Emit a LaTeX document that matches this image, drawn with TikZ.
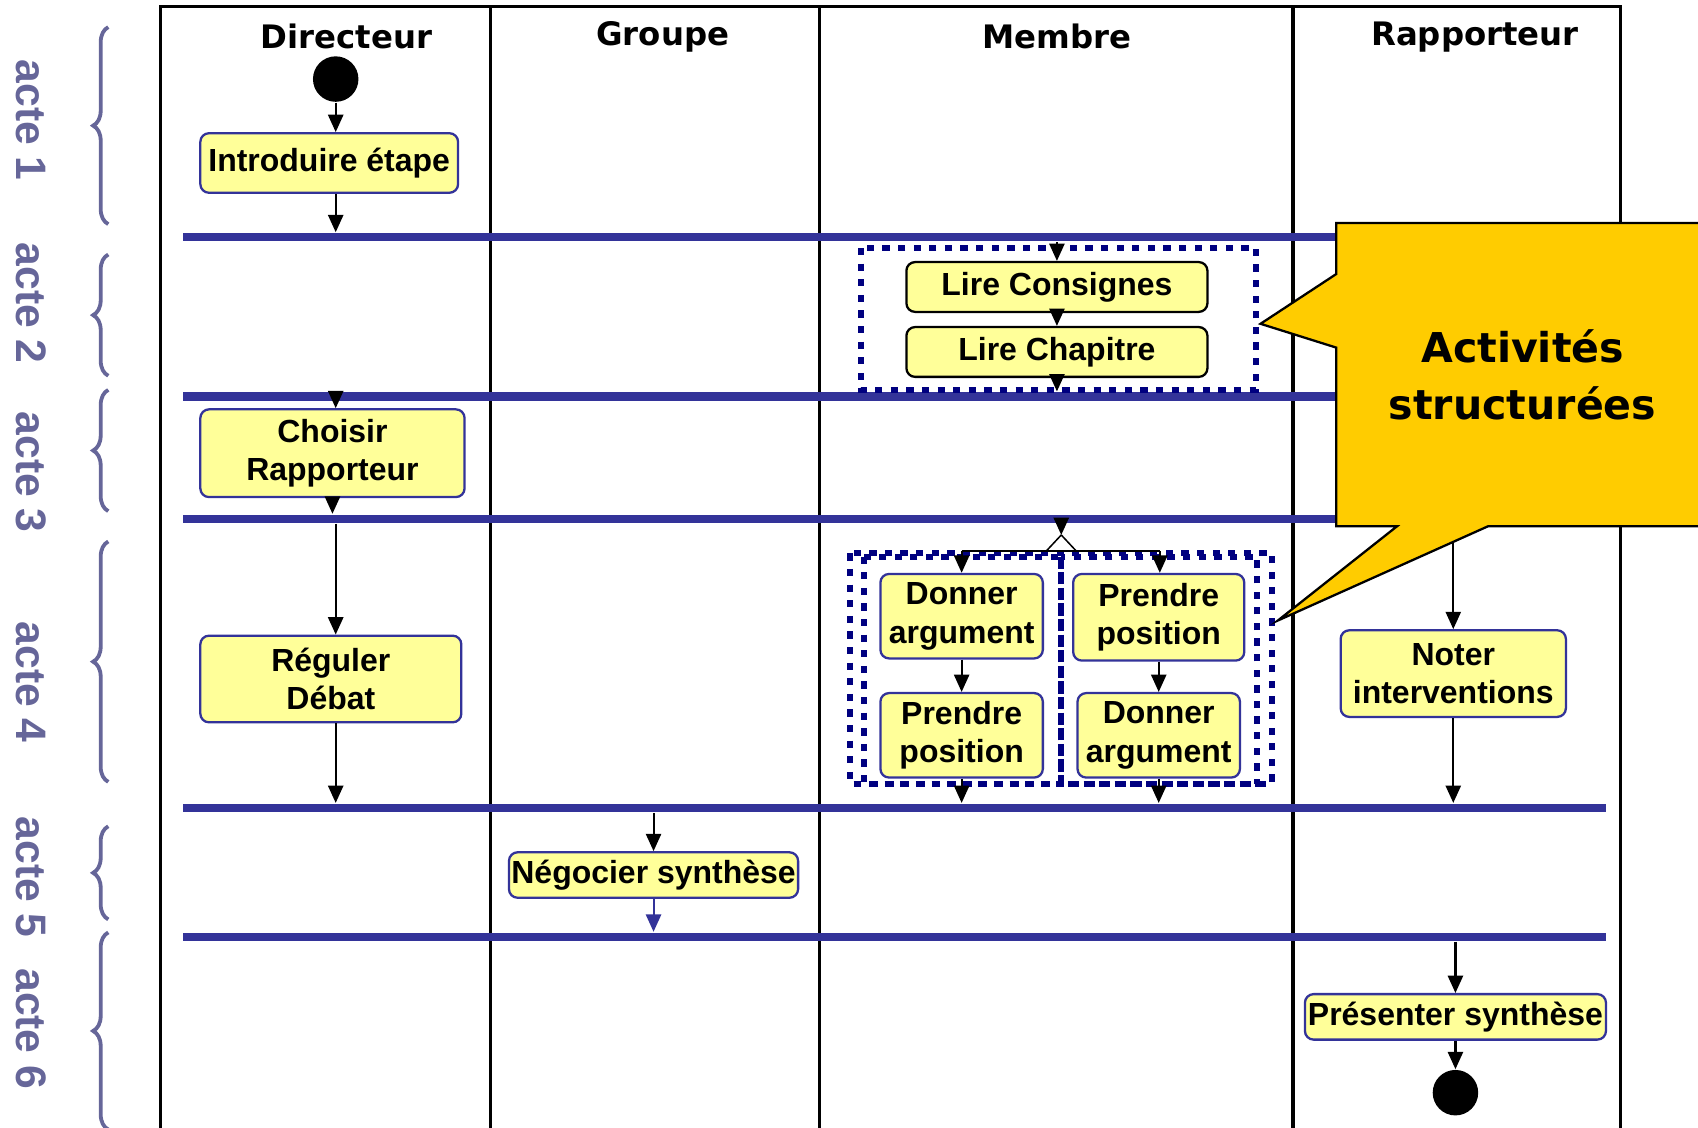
\documentclass[tikz,border=0pt]{standalone}
\usepackage{fontspec}
\setmainfont{Liberation Sans}
\newfontfamily\titrefont{DejaVu Sans}
\usepackage{tikz}
\usetikzlibrary{positioning, arrows.meta, decorations.pathreplacing}

\definecolor{bleubarre}{HTML}{333399}
\definecolor{jaunebox}{HTML}{FFFF99}
\definecolor{marine}{HTML}{000080}
\definecolor{orbulle}{HTML}{FFCC00}
\definecolor{grisacte}{HTML}{666699}

\begin{document}
\begin{tikzpicture}[y=-1cm,
    action/.style={rectangle, rounded corners=0.08cm, draw=bleubarre, line width=0.6pt, fill=jaunebox, inner sep=0pt, align=center, font=\fontsize{8.4}{10.2}\selectfont\bfseries},
    fleche/.style={-{Triangle[length=0.16cm, width=0.14cm]}, line width=0.55pt},
    barre/.style={rectangle, fill=bleubarre, inner sep=0pt, minimum width=13.14cm, minimum height=2.2pt},
    couloir/.style={line width=0.8pt},
    cadre/.style={draw=marine, line width=1.6pt, dash pattern=on 1.9pt off 2.2pt},
    etat/.style={circle, fill=black, inner sep=0pt, minimum size=0.42cm},
    acte/.style={rotate=-90, text=grisacte, font=\fontsize{11.2}{13}\selectfont\bfseries},
    accolade/.style={draw=grisacte, line width=1pt, decorate, decoration={brace, amplitude=0.14cm}},
    entete/.style={font=\titrefont\fontsize{8.5}{10}\selectfont\bfseries},
    bulletexte/.style={align=center, font=\titrefont\fontsize{10.8}{15}\selectfont\bfseries}]
    \path[use as bounding box] (0,0) rectangle (15.68,10.41);
    \clip (0,0) rectangle (15.68,10.41);

    % couloirs
    \draw[couloir] (1.48,10.6) -- (1.48,0.06) -- (14.96,0.06) -- (14.96,10.6);
    \draw[couloir] (4.53,0.06) -- (4.53,10.6);
    \draw[couloir] (7.57,0.06) -- (7.57,10.6);
    \draw[couloir] (11.94,0.06) -- (11.94,10.6);
    \node[entete] (hdir) at (3.20,0.34) {Directeur};
    \node[entete] (hgrp) at (6.12,0.34) {Groupe};
    \node[entete] (hmbr) at (9.76,0.34) {Membre};
    \node[entete] (hrap) at (13.62,0.34) {Rapporteur};

    % actes
    \node[acte] (a1) at (0.29,1.11) {acte 1};
    \node[acte] (a2) at (0.29,2.80) {acte 2};
    \node[acte] (a3) at (0.29,4.36) {acte 3};
    \node[acte] (a4) at (0.29,6.30) {acte 4};
    \node[acte] (a5) at (0.29,8.10) {acte 5};
    \node[acte] (a6) at (0.29,9.50) {acte 6};
    \draw[accolade] (1.00,2.07) -- (1.00,0.25);
    \draw[accolade] (1.00,3.47) -- (1.00,2.35);
    \draw[accolade] (1.00,4.72) -- (1.00,3.60);
    \draw[accolade] (1.00,7.22) -- (1.00,5.00);
    \draw[accolade] (1.00,8.49) -- (1.00,7.63);
    \draw[accolade] (1.00,10.43) -- (1.00,8.61);

    % barres de synchronisation
    \node[barre] (b1) at (8.26,2.19) {};
    \node[barre] (b2) at (8.26,3.66) {};
    \node[barre] (b3) at (8.26,4.79) {};
    \node[barre] (b4) at (8.26,7.46) {};
    \node[barre] (b5) at (8.26,8.65) {};

    % activites structurees
    \draw[cadre] (7.95,2.29) rectangle (11.60,3.60);
    \draw[cadre] (7.85,5.11) rectangle (11.75,7.24);
    \draw[cadre] (7.98,5.14) rectangle (9.80,7.24);
    \draw[cadre] (9.80,5.14) rectangle (11.61,7.24);

    \node[etat] (debut) at (3.10,0.73) {};
    \node[action, minimum width=2.38cm, minimum height=0.55cm] (intro) at (3.04,1.505) {Introduire étape};
    \node[action, draw=black, minimum width=2.78cm, minimum height=0.46cm] (consignes) at (9.76,2.65) {Lire Consignes};
    \node[action, draw=black, minimum width=2.78cm, minimum height=0.46cm] (chapitre) at (9.76,3.25) {Lire Chapitre};
    \node[action, minimum width=2.44cm, minimum height=0.81cm] (choisir) at (3.07,4.185) {Choisir\\Rapporteur};
    \node[action, minimum width=2.41cm, minimum height=0.80cm] (reguler) at (3.055,6.27) {Réguler\\Débat};
    \node[action, minimum width=1.50cm, minimum height=0.78cm] (donnerA) at (8.88,5.69) {Donner\\argument};
    \node[action, minimum width=1.50cm, minimum height=0.78cm] (prendreA) at (8.88,6.79) {Prendre\\position};
    \node[action, minimum width=1.58cm, minimum height=0.80cm] (prendreB) at (10.70,5.70) {Prendre\\position};
    \node[action, minimum width=1.50cm, minimum height=0.78cm] (donnerB) at (10.70,6.79) {Donner\\argument};
    \node[action, minimum width=2.08cm, minimum height=0.80cm] (noter) at (13.42,6.22) {Noter\\interventions};
    \node[action, minimum width=2.67cm, minimum height=0.42cm] (negocier) at (6.035,8.08) {Négocier synthèse};
    \node[action, minimum width=2.78cm, minimum height=0.42cm] (presenter) at (13.44,9.39) {Présenter synthèse};
    \node[etat] (fin) at (13.44,10.09) {};

    \coordinate (fourche) at (9.80,4.94);
    \coordinate (fgauche) at (8.88,5.09);
    \coordinate (fdroite) at (10.71,5.09);

    \draw[fleche] (debut.south) -- (debut.south |- intro.north);
    \draw[fleche] (debut |- intro.south) -- (debut |- b1.north);
    \draw[fleche] (consignes |- b1.south) -- (consignes.north);
    \draw[fleche] (consignes) -- (chapitre);
    \draw[fleche] (chapitre.south) -- (chapitre |- b2.north);
    \draw[fleche] (debut |- b2.south) -- (debut |- choisir.north);
    \draw[fleche] (choisir.south) -- (choisir |- b3.north);
    \draw[fleche] (debut |- b3.south) -- (debut |- reguler.north);
    \draw[fleche] (debut |- reguler.south) -- (debut |- b4.north);
    \draw[fleche] (fourche |- b3.south) -- (fourche);
    \draw (fourche) -- ++(-0.14,0.15);
    \draw (fourche) -- ++(0.14,0.15);
    \draw (fgauche) -- (fdroite);
    \draw[fleche] (fgauche) -- (fgauche |- donnerA.north);
    \draw[fleche] (fdroite) -- (fdroite |- prendreB.north);
    \draw[fleche] (donnerA) -- (prendreA);
    \draw[fleche] (prendreB) -- (donnerB);
    \draw[fleche] (prendreA.south) -- (prendreA |- b4.north);
    \draw[fleche] (donnerB.south) -- (donnerB |- b4.north);
    \draw[fleche] (noter |- b3.south) -- (noter.north);
    \draw[fleche] (noter.south) -- (noter |- b4.north);
    \draw[fleche] (negocier |- b4.south) -- (negocier.north);
    \draw[fleche, bleubarre] (negocier.south) -- (negocier |- b5.north);
    \draw[fleche] (presenter |- b5.south) -- (presenter.north);
    \draw[fleche] (presenter.south) -- (fin.north);

    % bulle
    \draw[fill=orbulle, line width=0.6pt] (12.34,2.06) -- (15.90,2.06) -- (15.90,4.86) -- (13.74,4.86) -- (11.80,5.73) -- (12.90,4.86) -- (12.34,4.86) -- (12.34,3.21) -- (11.64,2.99) -- (12.34,2.53) -- cycle;
    \node[bulletexte] (bulle) at (14.06,3.46) {Activités\\structurées};
\end{tikzpicture}
\end{document}
